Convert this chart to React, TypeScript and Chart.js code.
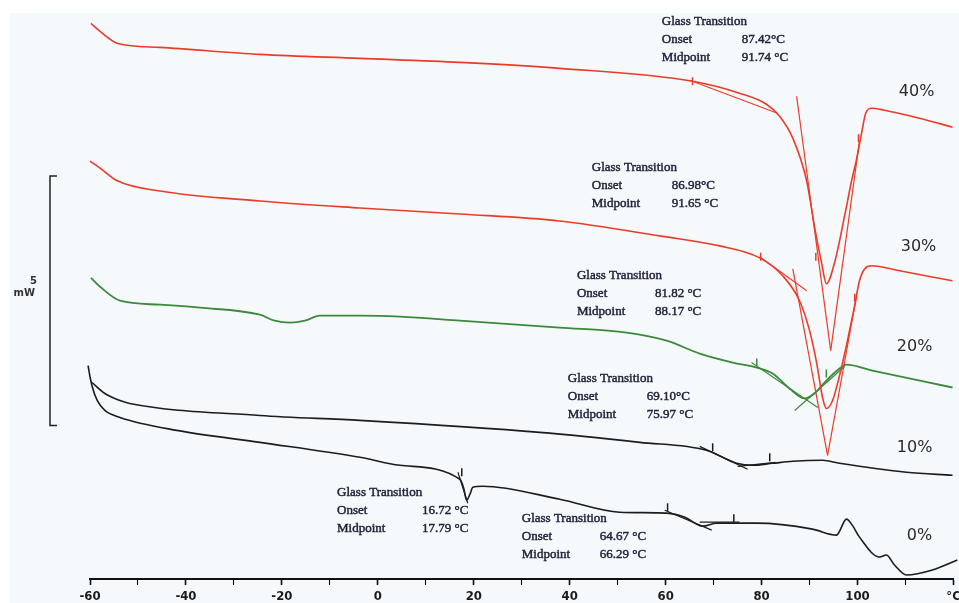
import React, { useEffect, useRef } from "react";
import { Chart, registerables } from "chart.js";
Chart.register(...registerables);

type P = [number, number]; // [temperature °C, heat flow mW (offset for display)]

// x axis ticks
const xTickValues = [-60, -40, -20, 0, 20, 40, 60, 80, 100, 120];
const xTickLabels = ["-60", "-40", "-20", "0", "20", "40", "60", "80", "100", "°C"];

// DSC curves (temperature, heat flow)
const curve40: P[] = [
  [-59.8, 11.14], [-57.9, 10.98], [-54.2, 10.74], [-45.4, 10.66], [-24.6, 10.52], [-3.75, 10.44],
  [17.1, 10.36], [37.9, 10.24], [65.6, 9.98], [75.4, 9.74], [81.0, 9.52], [83.75, 9.28],
  [86.5, 8.84], [89.4, 7.98], [91.0, 7.08], [92.5, 6.34], [93.5, 5.92], [95.2, 6.34],
  [97.3, 7.28], [98.75, 7.98], [99.8, 8.42], [100.8, 8.92], [101.7, 9.34], [102.9, 9.44],
  [105.6, 9.4], [112.9, 9.24], [119.8, 9.06],
];
const curve30: P[] = [
  [-60, 8.38], [-57.9, 8.24], [-54.2, 7.98], [-45.4, 7.78], [-24.6, 7.58], [-3.75, 7.44],
  [17.1, 7.32], [37.9, 7.18], [58.75, 6.88], [71.25, 6.68], [79.6, 6.44], [84.4, 6.08],
  [87.9, 5.58], [90.0, 4.98], [91.5, 4.32], [92.7, 3.64], [93.5, 3.42], [94.8, 3.58],
  [96.25, 4.08], [97.9, 4.78], [99.4, 5.48], [100.4, 5.98], [101.5, 6.22], [102.9, 6.28],
  [108.75, 6.18], [119.8, 5.98],
];
const curve20: P[] = [
  [-59.8, 6.04], [-57.9, 5.86], [-53.75, 5.58], [-45.4, 5.5], [-37.1, 5.44], [-24.6, 5.3],
  [-21.5, 5.18], [-18.3, 5.14], [-15.2, 5.18], [-12.1, 5.28], [-3.75, 5.28], [4.6, 5.26],
  [17.1, 5.18], [37.9, 5.04], [51.9, 4.94], [60.2, 4.78], [67.1, 4.52], [74.0, 4.34],
  [79.0, 4.24], [82.3, 4.12], [85.8, 3.82], [89.0, 3.62], [91.0, 3.72], [93.5, 3.98],
  [96.25, 4.22], [97.7, 4.3], [103.1, 4.18], [119.8, 3.84],
];
const curve10: P[] = [
  [-59.6, 3.94], [-56.9, 3.72], [-53.75, 3.58], [-51.7, 3.52], [-24.6, 3.28], [-3.75, 3.18],
  [33.75, 2.94], [54.6, 2.74], [68.5, 2.58], [74.8, 2.32], [78.1, 2.28], [82.3, 2.32],
  [86.5, 2.36], [92.7, 2.38], [96.25, 2.32], [110.2, 2.14], [119.8, 2.08],
];
const curve0: P[] = [
  [-61.0, 4.74], [-60.4, 4.28], [-59.6, 3.88], [-58.5, 3.58], [-56.9, 3.38], [-53.75, 3.24],
  [-41.9, 2.98], [-24.6, 2.74], [-3.75, 2.44], [4.6, 2.28], [17.1, 2.0], [17.9, 1.82],
  [18.5, 1.58], [19.2, 1.7], [19.8, 1.84], [21.9, 1.86], [37.9, 1.6], [50.4, 1.34],
  [60.2, 1.32], [64.0, 1.24], [67.7, 1.06], [70.6, 1.12], [79.0, 1.12], [90.6, 1.0],
  [95.6, 0.88], [97.7, 1.2], [98.9, 1.08], [100.4, 0.84], [104.6, 0.44], [106.0, 0.48],
  [107.7, 0.28], [110.2, 0.08], [115.6, 0.18], [120.8, 0.38],
];

// tangent construction lines of the glass-transition evaluation
const tangents40: P[][] = [
  [[65.0, 10.0], [83.3, 9.34]],
  [[87.3, 9.68], [94.4, 4.58]],
  [[94.4, 4.58], [100.4, 8.78]],
];
const tangents30: P[][] = [
  [[79.6, 6.46], [89.4, 5.78]],
  [[86.5, 6.22], [93.75, 2.48]],
  [[93.75, 2.48], [99.8, 5.68]],
];
const tangents20: P[][] = [
  [[77.9, 4.34], [91.7, 3.44]],
  [[86.9, 3.38], [97.3, 4.26]],
];
const tangents10: P[][] = [
  [[67.1, 2.66], [77.1, 2.2]],
  [[75.0, 2.26], [82.9, 2.34]],
];
const tangents0: P[][] = [
  [[16.7, 2.14], [18.75, 1.52]],
  [[59.8, 1.38], [69.6, 0.98]],
  [[67.1, 1.14], [75.4, 1.14]],
];

// evaluation markers
const markersRed: P[] = [[65.6, 9.98], [91.3, 6.46], [100.2, 8.84], [79.8, 6.46], [99.4, 5.64]];
const markersGreen: P[] = [[79.0, 4.34], [93.5, 4.12]];
const markersBlack: P[] = [[69.8, 2.64], [81.7, 2.44], [17.5, 2.14], [60.4, 1.44], [74.2, 1.22]];

// series labels
const seriesLabels = ["40%", "30%", "20%", "10%", "0%"];
const seriesLabelPos: P[] = [[112.3, 9.76], [112.7, 6.66], [111.9, 4.66], [111.9, 2.64], [112.9, 0.86]];

// glass transition annotations
const gtPos: P[] = [[59.2, 11.18], [44.6, 8.24], [41.5, 6.08], [39.6, 4.02], [-8.5, 1.74], [30.0, 1.22]];
const gtOnset = ["87.42°C", "86.98°C", "81.82 °C", "69.10°C", "16.72 °C", "64.67 °C"];
const gtMidpoint = ["91.74 °C", "91.65 °C", "88.17 °C", "75.97 °C", "17.79 °C", "66.29 °C"];
const gtValueOffset = [80, 80, 78, 79, 85, 78];

// scale bar: 5 mW
const scaleBarFrom = 3.08;
const scaleBarSize = 5;

const RED = "#ec3b28";
const GREEN = "#3a8a3a";
const BLACK = "#1c1c1c";
const TICK_FONT = '"Liberation Sans Narrow", "DejaVu Sans Condensed", Arial, sans-serif';

const toXY = (pts: P[]) => pts.map(([x, y]) => ({ x, y }));

export default function App() {
  const ref = useRef<HTMLCanvasElement | null>(null);

  useEffect(() => {
    if (!ref.current) return;

    const curveDs = (pts: P[], color: string, w = 1.6) => ({
      data: toXY(pts),
      borderColor: color,
      borderWidth: w,
      pointRadius: 0,
      fill: false,
      cubicInterpolationMode: "monotone" as const,
      clip: false as any,
    });
    const tangentDs = (pts: P[], color: string) => ({
      data: toXY(pts),
      borderColor: color,
      borderWidth: 1.2,
      pointRadius: 0,
      fill: false,
      tension: 0,
    });
    const markerDs = (pts: P[], color: string) => ({
      data: toXY(pts),
      showLine: false,
      borderColor: color,
      backgroundColor: color,
      borderWidth: 1.5,
      pointStyle: "line" as const,
      rotation: 90,
      pointRadius: 4,
    });

    const datasets: any[] = [
      curveDs(curve40, RED),
      curveDs(curve30, RED),
      curveDs(curve20, GREEN, 1.8),
      curveDs(curve10, BLACK),
      curveDs(curve0, BLACK),
      ...tangents40.map((t) => tangentDs(t, RED)),
      ...tangents30.map((t) => tangentDs(t, RED)),
      ...tangents20.map((t) => tangentDs(t, GREEN)),
      ...tangents10.map((t) => tangentDs(t, BLACK)),
      ...tangents0.map((t) => tangentDs(t, BLACK)),
      markerDs(markersRed, RED),
      markerDs(markersGreen, GREEN),
      markerDs(markersBlack, BLACK),
    ];

    const bgPlugin = {
      id: "bg",
      beforeDraw(chart: any) {
        const { ctx, width, height } = chart;
        ctx.save();
        ctx.fillStyle = "#ffffff";
        ctx.fillRect(0, 0, width, height);
        ctx.fillStyle = "#f6f9fc";
        ctx.fillRect(10, 13, width - 10, height - 13);
        ctx.restore();
      },
    };

    const textPlugin = {
      id: "texts",
      afterDatasetsDraw(chart: any) {
        const { ctx } = chart;
        const xs = chart.scales.x;
        const ys = chart.scales.y;
        ctx.save();
        // glass transition blocks
        ctx.font = '13px "Liberation Serif", "Times New Roman", serif';
        ctx.fillStyle = "#22223a";
        ctx.strokeStyle = "#22223a";
        ctx.lineWidth = 0.45;
        ctx.textBaseline = "middle";
        ctx.textAlign = "left";
        const put = (s: string, x: number, y: number) => {
          ctx.fillText(s, x, y);
          ctx.strokeText(s, x, y);
        };
        gtPos.forEach(([t, h], i) => {
          const px = xs.getPixelForValue(t);
          const py = ys.getPixelForValue(h);
          put("Glass Transition", px, py);
          put("Onset", px, py + 18);
          put(gtOnset[i], px + gtValueOffset[i], py + 18);
          put("Midpoint", px, py + 36);
          put(gtMidpoint[i], px + gtValueOffset[i], py + 36);
        });
        // series labels
        ctx.font = '16px "DejaVu Sans", sans-serif';
        ctx.fillStyle = "#2a2a2a";
        ctx.textAlign = "center";
        seriesLabels.forEach((s, i) => {
          const [t, h] = seriesLabelPos[i];
          ctx.fillText(s, xs.getPixelForValue(t), ys.getPixelForValue(h));
        });
        // scale bar
        const y1 = ys.getPixelForValue(scaleBarFrom + scaleBarSize);
        const y2 = ys.getPixelForValue(scaleBarFrom);
        const bx = 50;
        ctx.strokeStyle = "#222";
        ctx.lineWidth = 1.5;
        ctx.beginPath();
        ctx.moveTo(bx + 7, y1);
        ctx.lineTo(bx, y1);
        ctx.lineTo(bx, y2);
        ctx.lineTo(bx + 7, y2);
        ctx.stroke();
        ctx.font = 'bold 10px "DejaVu Sans", sans-serif';
        ctx.fillStyle = "#333";
        ctx.textAlign = "right";
        const mid = (y1 + y2) / 2;
        ctx.fillText(String(scaleBarSize), 37, mid - 19);
        ctx.fillText("mW", 35, mid - 7);
        // unit label at the right end of the temperature axis (last tick label)
        const lastIdx = xTickValues.length - 1;
        ctx.font = `bold 13px ${TICK_FONT}`;
        ctx.fillStyle = "#1a1a1a";
        ctx.textAlign = "center";
        ctx.textBaseline = "middle";
        ctx.fillText(xTickLabels[lastIdx], xs.getPixelForValue(xTickValues[lastIdx]), xs.top + 18);
        ctx.restore();
      },
    };

    const chart = new Chart(ref.current, {
      type: "line",
      data: { datasets },
      options: {
        animation: false,
        responsive: false,
        maintainAspectRatio: false,
        layout: { padding: { left: 90, right: 5, top: 4, bottom: 0 } },
        plugins: { legend: { display: false }, tooltip: { enabled: false } },
        scales: {
          x: {
            type: "linear",
            min: -60,
            max: 120,
            afterFit: (scale: any) => {
              scale.height = 24;
            },
            border: { display: true, color: "#111", width: 2 },
            grid: {
              drawOnChartArea: false,
              drawTicks: true,
              tickLength: 6,
              tickColor: "#111",
              tickWidth: (c: any) => (xTickValues.includes(c.tick?.value) ? 1.6 : 1.1),
            },
            ticks: {
              stepSize: 10,
              autoSkip: false,
              maxRotation: 0,
              padding: 5,
              color: "#1a1a1a",
              font: { family: TICK_FONT, size: 13, weight: "bold", lineHeight: 1 },
              callback: (v: any) => {
                const i = xTickValues.indexOf(Number(v));
                // the unit label at the last tick is drawn by the text plugin so it may sit at the edge
                return i >= 0 && i < xTickValues.length - 1 ? xTickLabels[i] : "";
              },
            },
          },
          y: { type: "linear", min: 0, max: 11.5, display: false },
        },
      } as any,
      plugins: [bgPlugin, textPlugin],
    });
    return () => chart.destroy();
  }, []);

  return (
    <div style={{ position: "fixed", left: 0, top: 0, width: 959, height: 603 }}>
      <canvas ref={ref} width={959} height={603} style={{ display: "block" }} />
    </div>
  );
}
